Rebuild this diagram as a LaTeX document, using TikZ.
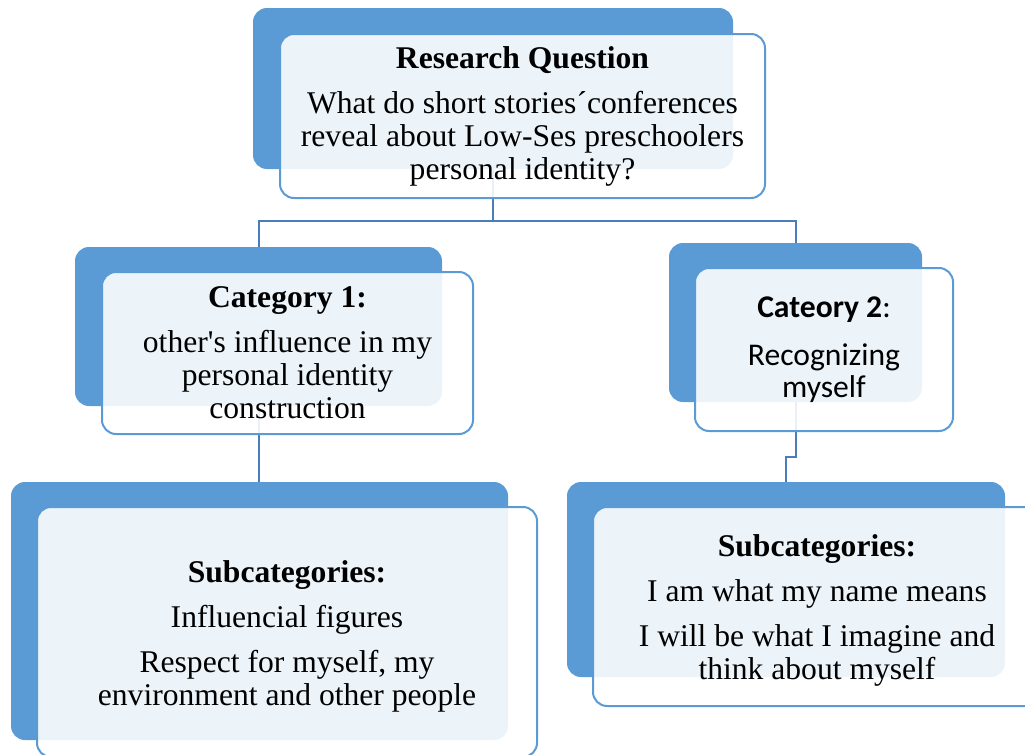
\documentclass[tikz,border=0pt]{standalone}
\usepackage{fontspec}
\setmainfont{Liberation Serif}
\newfontfamily\calibrifont{Carlito}
\usepackage{xcolor}
\usetikzlibrary{fit}
\definecolor{boxblue}{RGB}{91,155,213}
\definecolor{lineblue}{RGB}{74,126,187}

\begin{document}
\begin{tikzpicture}[x=0.5pt,y=-0.5pt,
  back/.style={fill=boxblue,rounded corners=7pt,inner sep=0pt},
  front/.style={draw=boxblue,line width=1pt,fill=white,fill opacity=0.89,
    rounded corners=7pt,inner sep=0pt},
  words/.style={align=center,inner sep=0pt,font=\fontsize{15.8}{16.5}\selectfont},
  link/.style={draw=lineblue,line width=1pt}]
\useasboundingbox (0,0) rectangle (1025,755);
%back boxes
\node[back,fit={(253,8) (733,169)}] (rqback) {};
\node[back,fit={(75,247) (442,406)}] (catoneback) {};
\node[back,fit={(669,243) (922,402)}] (cattwoback) {};
\node[back,fit={(11,482) (508,740)}] (suboneback) {};
\node[back,fit={(567,482) (1005,677)}] (subtwoback) {};
%links
\coordinate (split) at (493,221);
\draw[link] (rqback.south) -- (split) -| (catoneback.north);
\draw[link] (split) -| (cattwoback.north);
\draw[link] (catoneback.south) -- (catoneback.south |- suboneback.north);
\draw[link] (cattwoback.south) -- ++(0,55) -| (subtwoback.north);
%front boxes
\node[front,fit={(280,34) (765,198)}] (rq) {};
\node[front,fit={(102,272) (473,434)}] (catone) {};
\node[front,fit={(695,268) (953,431)}] (cattwo) {};
\node[front,fit={(37,507) (537,757)}] (subone) {};
\node[front,fit={(593,507) (1041,706)}] (subtwo) {};
%texts
\node[words] (rqtext) at (rq.center) {\textbf{Research Question}\\[6pt]
  What do short stories´conferences\\reveal about Low-Ses preschoolers\\personal identity?};
\node[words] (catonetext) at (catone.center) {\textbf{Category 1:}\\[6pt]
  other\textquotesingle s influence in my\\personal identity\\construction};
\node[words,font=\calibrifont\fontsize{15.8}{16}\selectfont] (cattwotext)
  at (cattwo.center) {\textbf{Cateory 2}:\\[8pt]Recognizing\\myself};
\node[words] (subonetext) at ([yshift=-2.25pt]subone.center) {\textbf{Subcategories:}\\[6pt]
  Influencial figures\\[6pt]Respect for myself, my\\environment and other people};
\node[words] (subtwotext) at ([yshift=-1.75pt]subtwo.center) {\textbf{Subcategories:}\\[6pt]
  I am what my name means\\[6pt]I will be what I imagine and\\think about myself};
\end{tikzpicture}
\end{document}
